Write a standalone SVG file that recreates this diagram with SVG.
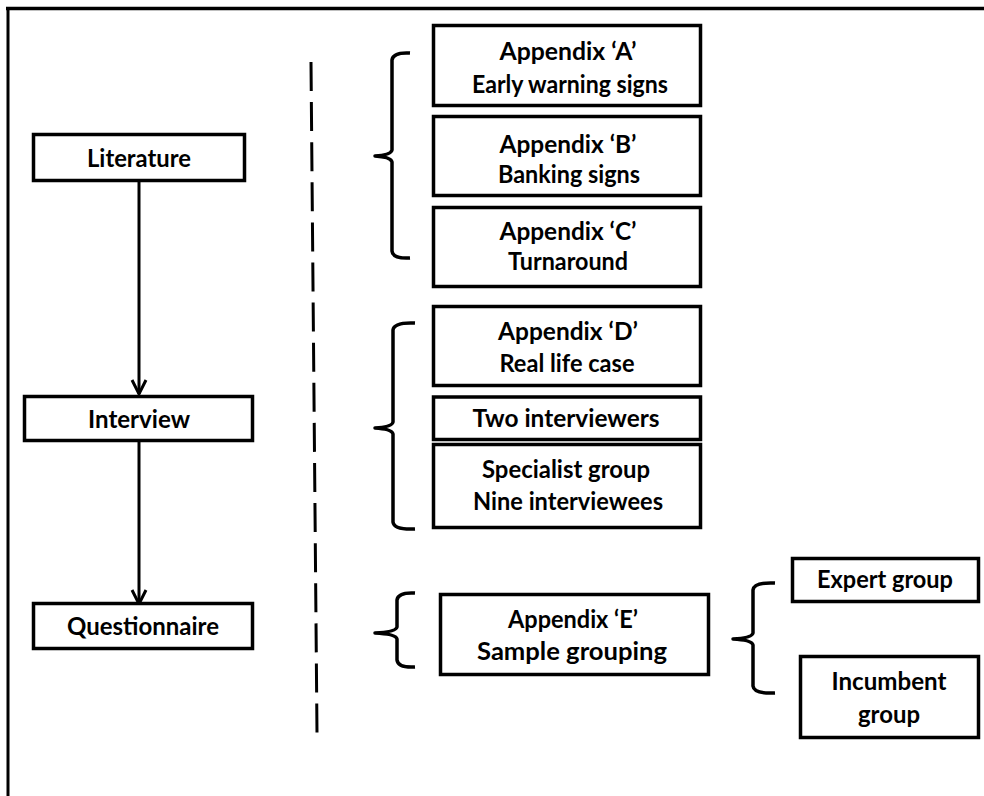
<svg xmlns="http://www.w3.org/2000/svg" width="984" height="796" viewBox="0 0 984 796">
<style>
.box{fill:#fff;stroke:#000;stroke-width:3.5}
.t{font-family:Lato,"Liberation Sans",sans-serif;font-weight:700;font-size:24px;fill:#000;text-anchor:middle}
.ln{fill:none;stroke:#000;stroke-width:3}
.br{fill:none;stroke:#000;stroke-width:3.5;stroke-linejoin:round;stroke-linecap:butt}
</style>
<defs>
<marker id="ah" viewBox="-16 -9 18 18" refX="0" refY="0" markerWidth="18" markerHeight="18" markerUnits="userSpaceOnUse" orient="auto" overflow="visible">
<path d="M-14,-7 L0,0 L-14,7" fill="none" stroke="#000" stroke-width="3"/>
</marker>
</defs>
<rect width="984" height="796" fill="#fff"/>
<g id="frame">
<line x1="6" y1="8.5" x2="984" y2="8.5" stroke="#000" stroke-width="3.5"/>
<line x1="8" y1="7" x2="8" y2="796" stroke="#000" stroke-width="3"/>
</g>
<g id="connectors">
<line class="ln" x1="139" y1="182" x2="139" y2="394" marker-end="url(#ah)"/>
<line class="ln" x1="139" y1="442" x2="139" y2="604" marker-end="url(#ah)"/>
<line x1="311" y1="62" x2="317" y2="733" stroke="#000" stroke-width="3" stroke-dasharray="29 11.1"/>
<path class="br" d="M410,53 Q393,52 392,60 L392,150 Q391,155 375,156 Q391,157 392,162 L392,251 Q393,259 410,258"/>
<path class="br" d="M415,323 Q394,322 393,330 L393,422 Q392,427 375,428 Q392,429 393,434 L393,522 Q394,530 415,529"/>
<path class="br" d="M415,593 Q398,592 397,600 L397,627 Q396,632 375,633 Q396,634 397,639 L397,660 Q398,668 415,667"/>
<path class="br" d="M775,583 Q754,582 753,590 L753,633 Q752,638 733,639 Q752,640 753,645 L753,686 Q754,694 775,693"/>
</g>
<g id="literature">
<rect class="box" x="33.5" y="134.5" width="211" height="46"/>
<text class="t" x="139" y="167" textLength="104" lengthAdjust="spacingAndGlyphs">Literature</text>
</g>
<g id="interview">
<rect class="box" x="24.5" y="396.5" width="228" height="44"/>
<text class="t" x="139" y="428" textLength="102" lengthAdjust="spacingAndGlyphs">Interview</text>
</g>
<g id="questionnaire">
<rect class="box" x="33.5" y="603.5" width="219" height="45"/>
<text class="t" x="143" y="635" textLength="152" lengthAdjust="spacingAndGlyphs">Questionnaire</text>
</g>
<g id="appendixA">
<rect class="box" x="433.5" y="25.5" width="267" height="80"/>
<text class="t" x="568" y="60" textLength="137" lengthAdjust="spacingAndGlyphs">Appendix ‘A’</text>
<text class="t" x="570" y="93" textLength="196" lengthAdjust="spacingAndGlyphs">Early warning signs</text>
</g>
<g id="appendixB">
<rect class="box" x="433.5" y="116.5" width="267" height="79"/>
<text class="t" x="568" y="153" textLength="137" lengthAdjust="spacingAndGlyphs">Appendix ‘B’</text>
<text class="t" x="569" y="183" textLength="142" lengthAdjust="spacingAndGlyphs">Banking signs</text>
</g>
<g id="appendixC">
<rect class="box" x="433.5" y="207.5" width="267" height="79"/>
<text class="t" x="568" y="240" textLength="137" lengthAdjust="spacingAndGlyphs">Appendix ‘C’</text>
<text class="t" x="568" y="270" textLength="120" lengthAdjust="spacingAndGlyphs">Turnaround</text>
</g>
<g id="appendixD">
<rect class="box" x="433.5" y="306.5" width="267" height="79"/>
<text class="t" x="568" y="340" textLength="140" lengthAdjust="spacingAndGlyphs">Appendix ‘D’</text>
<text class="t" x="567" y="372" textLength="135" lengthAdjust="spacingAndGlyphs">Real life case</text>
</g>
<g id="interviewers">
<rect class="box" x="433.5" y="397" width="267" height="42.5"/>
<text class="t" x="566" y="427" textLength="187" lengthAdjust="spacingAndGlyphs">Two interviewers</text>
</g>
<g id="specialist">
<rect class="box" x="433.5" y="444.5" width="267" height="83"/>
<text class="t" x="566" y="478" textLength="168" lengthAdjust="spacingAndGlyphs">Specialist group</text>
<text class="t" x="568" y="510" textLength="190" lengthAdjust="spacingAndGlyphs">Nine interviewees</text>
</g>
<g id="appendixE">
<rect class="box" x="440.5" y="594.5" width="268" height="80"/>
<text class="t" x="573" y="628" textLength="130" lengthAdjust="spacingAndGlyphs">Appendix ‘E’</text>
<text class="t" x="572" y="660" textLength="190" lengthAdjust="spacingAndGlyphs">Sample grouping</text>
</g>
<g id="expert">
<rect class="box" x="792.5" y="558.5" width="186" height="43"/>
<text class="t" x="885" y="588" textLength="136" lengthAdjust="spacingAndGlyphs">Expert group</text>
</g>
<g id="incumbent">
<rect class="box" x="800.5" y="656.5" width="178" height="81"/>
<text class="t" x="889" y="690" textLength="115" lengthAdjust="spacingAndGlyphs">Incumbent</text>
<text class="t" x="889" y="723" textLength="62" lengthAdjust="spacingAndGlyphs">group</text>
</g>
</svg>
